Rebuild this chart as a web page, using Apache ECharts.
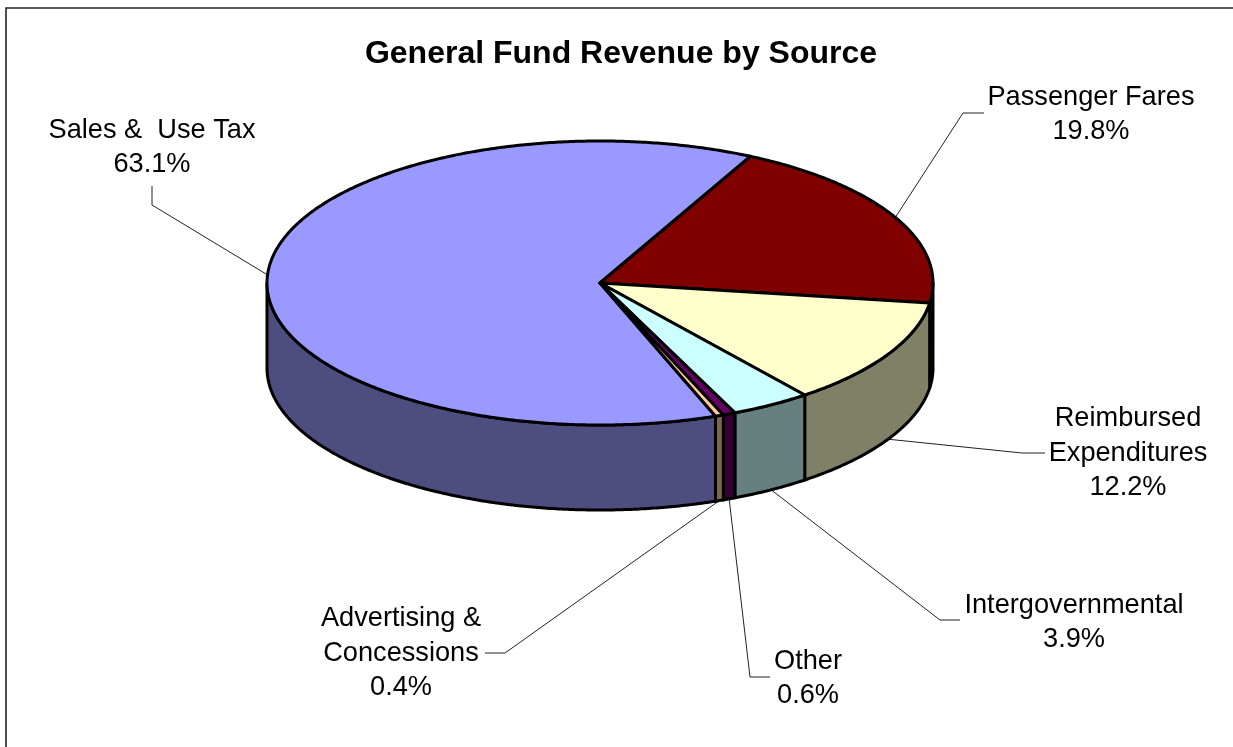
<!DOCTYPE html>
<html>
<head>
<meta charset="utf-8">
<style>html,body{margin:0;padding:0;background:#fff}#c{width:1233px;height:747px}</style>
<script src="https://cdn.jsdelivr.net/npm/echarts@6/dist/echarts.min.js"></script>
</head>
<body>
<div id="c"></div>
<script>
// ----- data -----
const categories = ['Sales &  Use Tax', 'Passenger Fares', 'Reimbursed\nExpenditures', 'Intergovernmental', 'Other', 'Advertising &\nConcessions'];
const shares = [63.1, 19.8, 12.2, 3.9, 0.6, 0.4];
const chartTitle = 'General Fund Revenue by Source';

// ----- styles -----
const topColors  = ['#9999FF', '#800000', '#FFFFCC', '#CCFFFF', '#660066', '#FFCC99'];
const sideColors = ['#4D4D80', '#400000', '#808066', '#668080', '#330033', '#80664D'];
const FONT = '"Liberation Sans", Arial, sans-serif';

// ----- layout -----
const PIE = {cx: 600, cy: 283, rx: 333, ry: 142, depth: 85, startDeg: 159.7};
const LABELS = [
  {x: 152,  y: 147.5, elbow: [[152, 205], [152, 186]]},
  {x: 1091, y: 114.5, elbow: [[963, 113], [984, 113]]},
  {x: 1128, y: 453.5, elbow: [[1022, 453], [1045, 453]]},
  {x: 1074, y: 622.5, elbow: [[940, 620], [960, 620]]},
  {x: 808,  y: 678.5, elbow: [[750, 677], [770, 677]]},
  {x: 401,  y: 653.5, elbow: [[505, 653], [485, 653]]}
];

const total = shares.reduce((a, b) => a + b, 0);
function sliceRange(i) {
  let before = 0;
  for (let k = 0; k < i; k++) before += shares[k];
  const a0 = PIE.startDeg + before / total * 360;
  return [a0, a0 + shares[i] / total * 360];
}
function pt(deg, dy) {
  const r = deg * Math.PI / 180;
  return [PIE.cx + PIE.rx * Math.sin(r), PIE.cy - PIE.ry * Math.cos(r) + (dy || 0)];
}
function arc(a0, a1, dy) {
  const n = Math.max(2, Math.ceil(Math.abs(a1 - a0) * 2));
  const out = [];
  for (let j = 0; j <= n; j++) out.push(pt(a0 + (a1 - a0) * j / n, dy));
  return out;
}
function wallRange(a0, a1) {
  for (const off of [0, -360]) {
    const lo = Math.max(a0 + off, 90), hi = Math.min(a1 + off, 270);
    if (hi > lo) return [lo, hi];
  }
  return null;
}
const edge = {stroke: '#000', lineWidth: 3, lineJoin: 'round'};

function renderWall(params, api) {
  const i = params.dataIndex, [a0, a1] = sliceRange(i), w = wallRange(a0, a1);
  if (!w) return {type: 'group', children: []};
  const points = arc(w[0], w[1], 0).concat(arc(w[1], w[0], PIE.depth));
  return {type: 'polygon', shape: {points}, style: Object.assign({fill: sideColors[i]}, edge)};
}
function renderTop(params, api) {
  const i = params.dataIndex, [a0, a1] = sliceRange(i);
  const points = [[PIE.cx, PIE.cy]].concat(arc(a0, a1, 0));
  return {type: 'polygon', shape: {points}, style: Object.assign({fill: topColors[i]}, edge)};
}
function renderLabel(params, api) {
  const i = params.dataIndex, [a0, a1] = sliceRange(i), mid = (a0 + a1) / 2;
  const lower = Math.cos(mid * Math.PI / 180) < 0;
  const start = pt(mid, lower ? PIE.depth : 0);
  const L = LABELS[i];
  return {type: 'group', children: [
    {type: 'polyline', shape: {points: [start].concat(L.elbow)}, style: {fill: null, stroke: '#222', lineWidth: 1}},
    {type: 'text', style: {x: L.x, y: L.y, text: categories[i] + '\n' + api.value(0).toFixed(1) + '%',
      align: 'center', verticalAlign: 'middle', fill: '#000',
      font: '27.2px ' + FONT, lineHeight: 34.5}}
  ]};
}
const rows = shares.map((v, i) => ({name: categories[i], value: [v]}));
const layer = (fn, z) => ({type: 'custom', coordinateSystem: 'none', renderItem: fn, data: rows, z, silent: true, clip: false, animation: false});

const chart = echarts.init(document.getElementById('c'), null, {renderer: 'canvas'});
chart.setOption({
  animation: false,
  backgroundColor: '#fff',
  title: {text: chartTitle, left: 616, top: 33, textAlign: 'center',
    textStyle: {fontFamily: FONT, fontWeight: 'bold', fontSize: 32, color: '#000'}},
  graphic: [{type: 'polyline', shape: {points: [[6, 747], [6, 8], [1233, 8]]}, style: {fill: null, stroke: '#222', lineWidth: 1.6}, silent: true}],
  series: [layer(renderLabel, 1), layer(renderWall, 2), layer(renderTop, 3)]
});
</script>
</body>
</html>
